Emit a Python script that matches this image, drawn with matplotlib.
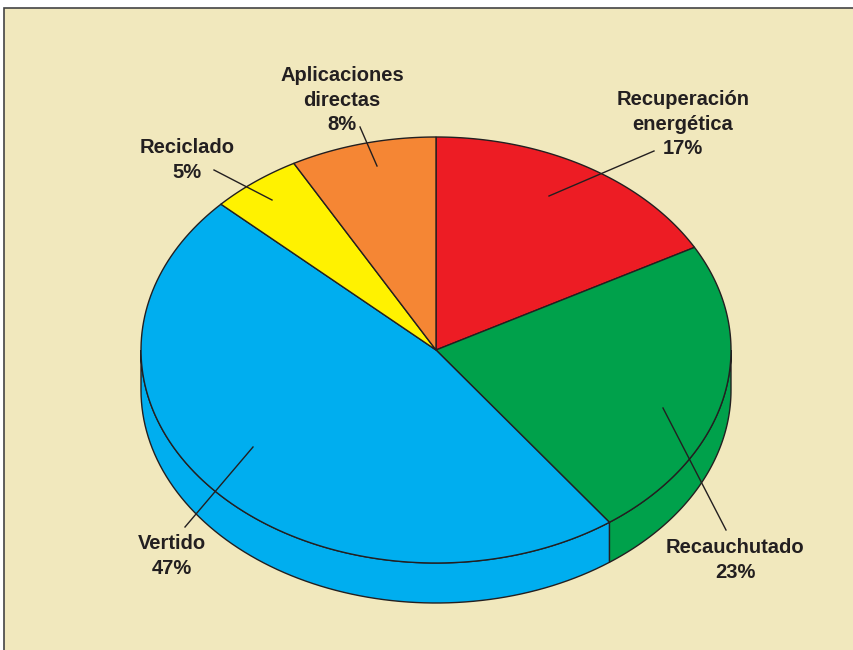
import numpy as np
import matplotlib.pyplot as plt
from matplotlib.patches import Polygon, Rectangle

plt.rcParams['font.family'] = ['Liberation Sans', 'DejaVu Sans']

labels = ['Recuperación\nenergética', 'Recauchutado', 'Vertido', 'Reciclado', 'Aplicaciones\ndirectas']
values = [17, 23, 47, 5, 8]
colors = ['#ED1C24', '#00A14B', '#00AEEF', '#FFF200', '#F58634']
# label text centre and leader line (start on slice, end near label)
label_pos = [(683, 124), (735, 560), (172, 556), (187, 160), (342, 100)]
leaders = [((549, 196), (654, 151)), ((663, 408), (726, 530)), ((253, 447), (185, 527)),
           ((272, 200), (214, 170)), ((377, 166), (360, 127))]

cx, cy, rx, ry, depth = 436, 350, 295, 213, 40
bg = '#F1E8BD'
edge = '#231F20'

fig = plt.figure(figsize=(8.54, 6.5), dpi=100, facecolor='white')
ax = fig.add_axes([0, 0, 1, 1])
ax.set_xlim(0, 854)
ax.set_ylim(650, 0)
ax.axis('off')

ax.add_patch(Rectangle((4, 8), 900, 700, facecolor=bg, edgecolor='#444444', lw=1.2))

def pt(a, dy=0):
    r = np.radians(a)
    return cx + rx * np.cos(r), cy - ry * np.sin(r) + dy

# slice angles (parametric), clockwise from the top
bounds = [90.0]
for v in values:
    bounds.append(bounds[-1] - v / sum(values) * 360)

# side walls (only front half: angles between -180 and 0)
for i, c in enumerate(colors):
    a0, a1 = bounds[i], bounds[i + 1]
    lo, hi = max(min(a0, a1), -180), min(max(a0, a1), 0)
    if lo >= hi:
        continue
    t = np.linspace(hi, lo, 80)
    top = [pt(a) for a in t]
    bot = [pt(a, depth) for a in t[::-1]]
    ax.add_patch(Polygon(top + bot, closed=True, facecolor=c, edgecolor=edge, lw=1.0))

# top surface
for i, c in enumerate(colors):
    t = np.linspace(bounds[i], bounds[i + 1], 120)
    verts = [(cx, cy)] + [pt(a) for a in t]
    ax.add_patch(Polygon(verts, closed=True, facecolor=c, edgecolor=edge, lw=1.0, joinstyle='miter'))

for (p0, p1) in leaders:
    ax.plot([p0[0], p1[0]], [p0[1], p1[1]], color=edge, lw=1.0)

for lab, v, (x, y) in zip(labels, values, label_pos):
    ax.text(x, y, f'{lab}\n{v}%', ha='center', va='center', fontsize=14.5,
            fontweight='bold', color=edge, linespacing=1.38)

fig.savefig('out.png', dpi=100, facecolor='white')
